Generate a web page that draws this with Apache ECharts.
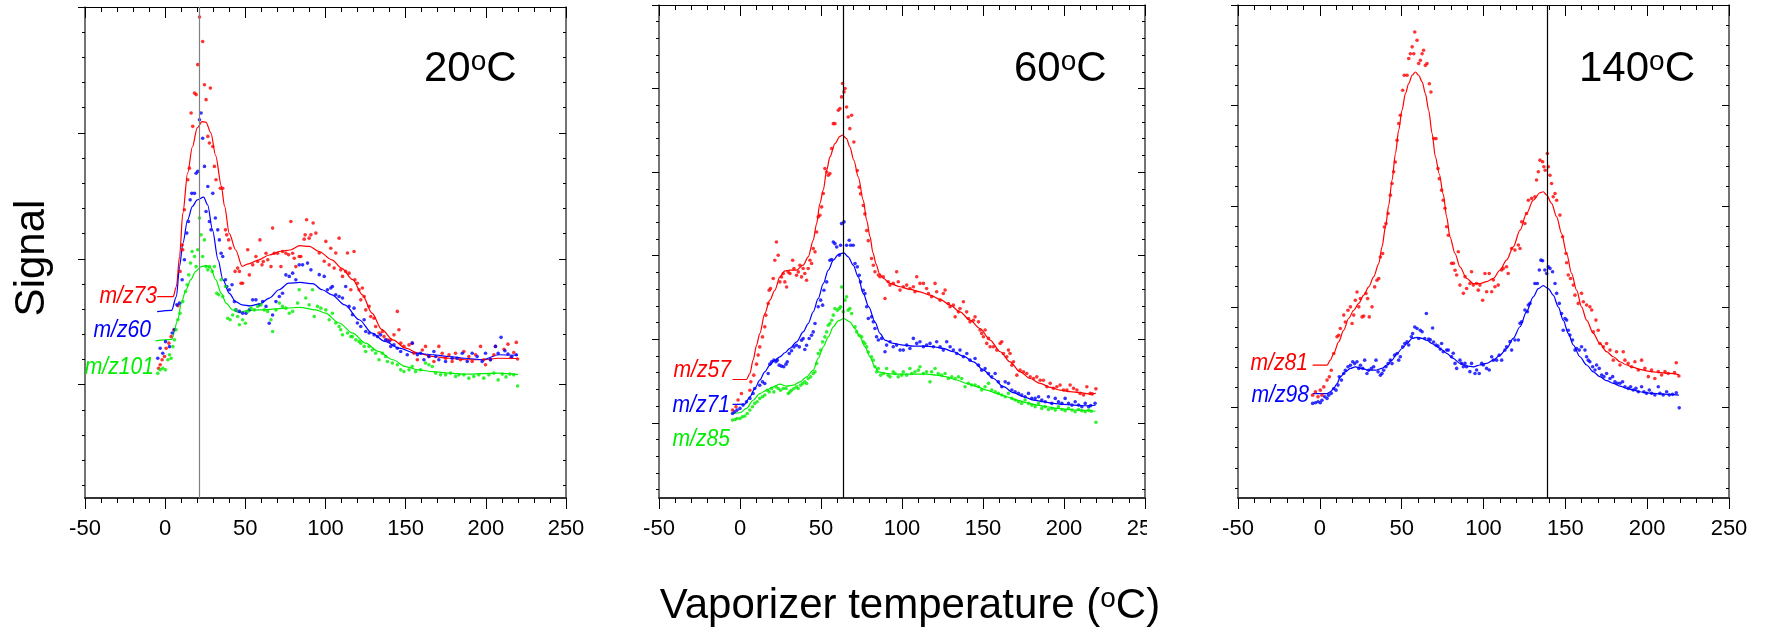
<!DOCTYPE html>
<html>
<head>
<meta charset="utf-8">
<script src="https://cdn.jsdelivr.net/npm/echarts@6.0.0/dist/echarts.min.js"></script>
<style>
html, body { margin: 0; padding: 0; background: #fff; }
#chart { width: 1765px; height: 633px; }
</style>
</head>
<body>
<div id="chart"></div>
<script>
// axis ticks / panel info
var xTicks = [-50, 0, 50, 100, 150, 200, 250];
var panelTemps = ['20', '60', '140'];
var yTops = [20, 30, 25];          // arbitrary signal units, axis bottom = 0.5
var refLines = [21, 64, 139];      // vertical marker (degC)

// ---- 20 C panel ----
var mz73_fit = [[-5,8.5],[5,8.5],[7,8.9],[9,10.1],[11,11.8],[14,13.4],[17,14.45],[20,15.2],[23,15.45],[25.5,15.42],[28.5,15.0],[31.5,14.1],[35,12.9],[37,12.1],[40,11.0],[44,10.35],[48,9.7],[52,9.8],[58,9.95],[65,10.15],[72,10.3],[78,10.35],[84,10.52],[90,10.49],[96,10.29],[104,9.96],[110,9.63],[117,9.17],[123,8.57],[129,7.84],[135,7.2],[142,6.78],[150,6.45],[158,6.25],[167,6.12],[177,6.05],[187,5.99],[198,5.99],[208,6.05],[220,6.04]];
var mz73_pts = [[-4.1,5.65],[-3.1,5.79],[-1.9,5.99],[-0.4,6.12],[0.6,6.45],[2.3,6.65],[3.7,6.91],[5.4,7.18],[8,8.14],[9.3,9.5],[10.6,10.55],[11,10.36],[12,11.95],[14.1,13.14],[15.1,13.6],[16.2,15.79],[17.2,15.26],[18.3,16.58],[19.3,16.52],[20.3,17.71],[21.4,19.6],[23.4,18.63],[24.5,16.91],[25.5,16.32],[26.6,14.86],[28.2,16.78],[27.6,14.6],[29.7,14.46],[30.7,13.67],[31.7,13.14],[34.4,12.8],[35.9,12.8],[37.6,11.15],[38.4,10.95],[39.6,10.75],[40.5,10.42],[43.6,9.5],[45.2,9.63],[46.3,9.5],[47.3,9.03],[48.3,9.03],[51.5,10.36],[52.5,9.36],[54.6,9.76],[56.6,10.09],[57.7,9.89],[59.1,10.75],[60.4,9.76],[61.2,9.89],[62.9,10.22],[64,9.96],[66,9.69],[67,11.22],[68,10.22],[70.1,10.22],[72.2,9.69],[73.2,10.29],[75.3,10.22],[77,10.16],[78.4,11.48],[79.5,10.22],[80.5,10.02],[81.5,9.69],[83.6,10.09],[84.6,10.09],[86.7,10.78],[87.3,10.95],[88.2,11.55],[89.8,10.82],[90.9,10.95],[92.3,11.42],[94,11.02],[96.1,10.23],[99.2,9.9],[100.2,10.69],[102.3,9.76],[103.3,10.42],[105.4,9.63],[106.4,10.23],[108.5,10.82],[109.5,9.56],[110.6,9.3],[112.6,9.5],[113.7,10.23],[114.7,9.43],[115.8,8.77],[117.8,10.29],[118.3,9.17],[119.9,9.03],[120.9,8.77],[122,8.37],[123,8.84],[124.1,8.5],[125.1,7.97],[127.2,8.11],[128.2,7.71],[130.3,7.64],[131.3,7.31],[133.4,7.05],[135.5,7.11],[136.5,6.91],[138.6,6.78],[140.7,6.78],[142.7,6.98],[144.8,7.91],[145.8,7.18],[146.9,6.65],[148.9,6.52],[152.1,6.58],[154.1,6.65],[155.2,6.25],[157.3,5.99],[160.4,6.38],[162.4,6.52],[164.5,6.12],[167.6,5.92],[170.7,6.52],[172.8,6.25],[174.9,6.05],[177,6.19],[179,5.92],[181.1,6.25],[184.2,5.99],[186.3,6.32],[189.4,6.12],[191.5,5.92],[193.6,6.19],[196.7,6.52],[198.7,5.99],[199.8,5.79],[202.9,5.99],[205,6.19],[206,6.52],[211.4,6.41],[213.8,6.61],[215.7,6.08],[217.4,6.28],[219,6.68],[219.8,6.02]];
var mz60_fit = [[-5,7.9],[4,7.95],[7,8.5],[9,9.7],[11,10.6],[14,11.55],[17,12.08],[20,12.34],[24,12.45],[26.5,12.14],[29.5,11.15],[33,9.96],[36,9.17],[40,8.63],[44,8.3],[48,8.17],[53,8.13],[59,8.21],[65,8.44],[71,8.77],[77,9.03],[84,9.06],[92,9.01],[98,8.77],[104,8.57],[112,8.17],[121,7.58],[129,7.05],[137,6.72],[146,6.45],[156,6.25],[167,6.19],[177,6.12],[187,6.05],[198,5.99],[208,6.19],[220,6.17]];
var mz60_pts = [[-4.6,6.05],[-3.1,6.45],[-1.5,6.25],[0.2,6.71],[2.7,6.51],[4.4,7.05],[5.8,7.18],[7.3,8.17],[8.9,8.24],[10.6,9.17],[12,9.96],[13.5,11.02],[14.5,11.48],[15.6,12.34],[16.6,12.6],[18.3,12.6],[19.3,13.4],[20.3,13.47],[21.4,15.52],[22.4,15.79],[23.4,14.79],[24.5,13.67],[25.5,11.88],[26.6,12.87],[27.6,11.48],[28.6,11.15],[29.7,12.6],[31.3,11.62],[32.8,11.15],[33.8,10.75],[34.9,10.22],[35.9,10.09],[37.6,9.17],[38.4,8.9],[40,8.77],[41.7,8.97],[43.2,8.3],[44.2,7.97],[46.3,7.91],[48.3,7.84],[50.4,7.84],[52.5,7.97],[54.6,8.37],[56.6,8.37],[58.7,8.17],[60.8,8.3],[62.9,8.11],[64.9,7.44],[67,7.77],[69.1,8.3],[71.2,8.5],[73.2,8.63],[75.3,9.36],[77.4,9.3],[79.5,9.43],[81.5,9.17],[83.6,9.76],[85.7,9.76],[88.8,9.83],[90.9,9.56],[96.1,9.37],[99.2,9.3],[101.2,8.77],[103.3,8.84],[104.3,8.9],[106.4,8.57],[108.5,8.5],[110.6,8.44],[112.6,8.9],[114.7,8.11],[116.8,7.78],[117.8,8.04],[119.9,7.45],[122,7.31],[124.1,7.58],[125.1,7.11],[127.2,7.05],[130.3,6.98],[132.4,6.91],[134.4,6.98],[137.5,6.78],[139.6,6.72],[140.7,6.52],[142.7,6.58],[144.8,6.45],[146.9,6.32],[151,6.19],[154.1,6.65],[157.3,6.19],[159.3,6.25],[161.4,5.99],[164.5,6.12],[167.6,6.32],[168.7,6.12],[170.7,5.99],[174.9,5.92],[179,6.05],[182.1,6.05],[185.3,6.25],[188.4,5.92],[191.5,6.25],[194.6,6.12],[197.7,5.92],[199.8,6.25],[202.9,5.99],[206,6.52],[207.7,6.25],[209.5,6.88],[211.9,6.35],[213.8,6.22],[216.2,6.11],[219,6.19]];
var mz101_fit = [[-6,6.74],[4,6.8],[8,7.58],[10,8.24],[13,8.77],[16,9.17],[19,9.5],[22.5,9.69],[25.5,9.73],[28.5,9.63],[31.5,9.17],[35,8.63],[38,8.24],[42,7.97],[46,7.87],[52,7.95],[59,7.97],[67,8.0],[75,8.04],[84,8.07],[94,7.97],[100,7.84],[108.5,7.45],[117,7.05],[125,6.65],[133,6.32],[142,5.99],[150,5.72],[158,5.59],[167,5.52],[177,5.46],[187,5.42],[208,5.46],[220,5.4]];
var mz101_pts = [[-4.6,5.45],[-3.1,5.59],[-1.5,5.65],[0.2,5.59],[1.7,5.99],[2.7,6.19],[3.7,6.05],[4.8,6.51],[5.8,6.78],[6.8,7.18],[7.9,7.58],[9.3,7.84],[11,8.3],[12.7,8.7],[13.7,8.97],[14.7,9.36],[15.8,9.83],[16.8,10.29],[18.3,10.09],[19.3,9.69],[20.3,10.36],[21.4,11.62],[22.4,10.95],[23.4,10.09],[24.5,10.75],[25.5,9.69],[26.6,9.56],[27.6,9.69],[29.3,9.5],[30.7,9.69],[32.2,8.63],[33.4,8.57],[34.9,9.17],[35.9,8.5],[37.6,8.9],[39,7.64],[40.5,7.58],[42.1,7.77],[43.8,7.97],[45.2,7.71],[46.3,7.38],[48.3,7.58],[50,7.44],[51.5,7.91],[53.5,8.04],[55.6,7.97],[57.7,8.11],[59.8,8.17],[61.8,7.97],[63.9,7.91],[66,7.58],[67,7.11],[69.1,7.97],[71.2,8.24],[73.2,8.11],[75.3,8.04],[77.4,7.84],[79.5,7.91],[82.6,8.24],[83.6,8.77],[87.7,8.44],[89.8,8.17],[91.9,8.77],[93,7.71],[95,8.11],[97.1,8.04],[100.2,7.97],[102.3,7.58],[104.3,7.84],[106.4,7.45],[108.5,7.31],[109.5,7.18],[110.6,6.98],[113.7,7.05],[115.8,6.91],[116.8,6.91],[118.9,6.78],[120.9,6.72],[122,6.65],[124.1,6.52],[125.1,6.32],[127.2,6.52],[129.2,6.38],[131.3,6.25],[133.4,5.99],[135.5,6.25],[137.5,6.12],[138.6,5.92],[141.7,5.86],[144.8,5.79],[146.9,5.59],[148.9,5.52],[152.1,5.59],[154.1,5.72],[156.2,5.52],[159.3,5.59],[162.4,5.86],[164.5,5.79],[166.6,5.72],[168.7,5.46],[171.8,5.39],[174.9,5.39],[178,5.46],[181.1,5.33],[183.2,5.39],[186.3,5.39],[189.4,5.26],[192.5,5.33],[195.6,5.39],[198.7,5.26],[201.9,5.39],[205,5.46],[207.7,5.19],[210.3,5.42],[212.6,5.31],[215,5.42],[217.4,5.39],[219.8,4.95]];

// ---- 60 C panel ----
var mz57_fit = [[-4.6,7.59],[4,7.59],[6.1,7.95],[8.1,8.75],[10.2,9.64],[12.2,10.34],[15.3,11.54],[18.4,12.34],[21.5,12.93],[24.6,13.73],[27.7,14.09],[30.8,14.13],[34.9,14.13],[39,14.43],[42.1,14.93],[45.2,15.92],[47.3,16.92],[49.3,18.12],[51.4,18.92],[53.5,20.11],[55.5,20.91],[58.6,21.71],[61.7,22.14],[63.3,22.22],[65.8,22.0],[67.8,21.51],[70.3,20.71],[73,19.71],[76.1,18.32],[78.2,17.12],[80.3,16.12],[82,15.2],[84,14.5],[86,13.95],[88.5,13.64],[92.6,13.34],[98.8,13.14],[105,12.98],[111.1,12.84],[117.3,12.64],[123.5,12.38],[129.7,12.04],[135.8,11.64],[142,11.14],[148.2,10.64],[154.4,9.95],[160.6,9.25],[166.7,8.65],[172.9,8.05],[179.1,7.65],[185.3,7.36],[191.5,7.12],[197.6,6.96],[203.8,6.86],[210,6.8],[216.2,6.72],[219.7,6.77]];
var mz57_pts = [[-4.6,5.76],[-2.5,5.96],[-1.2,6.36],[0.9,6.75],[6.1,6.95],[6.7,7.45],[8.5,7.85],[10.2,8.51],[11.2,9.05],[12.2,9.54],[13.9,10.14],[15.3,10.74],[15.9,11.44],[17.4,12.14],[18,12.93],[18.8,13.03],[20.5,13.63],[21.5,14.73],[22.5,15.82],[23.6,15.03],[24.6,13.43],[25.6,13.73],[26.7,13.93],[27.7,13.43],[28.8,13.13],[29.8,14.03],[30.8,13.93],[32.5,14.73],[33.3,14.23],[34.9,13.83],[36,14.03],[37,14.43],[38,13.73],[39,14.23],[40,13.93],[41.1,13.53],[42.1,14.23],[43.2,14.73],[44.2,14.53],[45.2,15.43],[46.3,15.23],[47.3,16.42],[48.3,17.32],[49.3,17.42],[50.4,17.92],[51.4,18.72],[52.4,20.21],[53.5,20.01],[54.5,19.81],[55.5,19.91],[56.6,21.41],[57.6,22.9],[58.6,22.9],[60.7,23.7],[61.7,23.8],[62.7,24.5],[63.3,25.3],[64.2,24.8],[64.8,25.0],[65.8,23.9],[66.8,23.3],[67.8,22.6],[68.9,23.4],[70.3,21.8],[72.4,20.1],[73.6,19.1],[74.4,18.7],[76.1,18.0],[77.1,17.5],[78.2,16.5],[79.2,15.9],[81.2,14.83],[82.3,14.43],[83.3,14.04],[85.4,13.84],[86.4,13.74],[88.5,13.74],[89.5,12.44],[91.5,13.44],[92.6,13.24],[94.6,13.34],[96.7,14.04],[97.7,13.44],[98.8,12.94],[100.8,13.14],[102.9,13.24],[104.9,13.04],[107,13.14],[108,12.84],[109.1,13.74],[111.1,13.34],[113.2,13.34],[115.2,13.04],[116.3,12.74],[118.3,12.54],[120.4,13.34],[121.4,12.84],[123.5,12.34],[125.5,12.74],[126.6,12.94],[128.6,12.14],[129.7,11.94],[131.7,12.04],[132.8,11.34],[134.8,11.64],[135.8,11.84],[137.9,12.24],[139.9,11.64],[141,11.24],[142,11.04],[144.1,11.14],[145.1,11.34],[147.2,11.04],[148.2,10.55],[149.2,10.35],[150.3,10.15],[151.3,10.55],[152.3,9.75],[153.4,10.05],[154.4,9.55],[156.4,9.55],[158.5,9.35],[160.6,9.75],[161.6,9.85],[162.6,9.15],[164.7,8.95],[165.7,9.35],[166.7,9.15],[167.8,8.45],[168.8,8.65],[170.9,7.85],[172.9,8.15],[175,8.05],[177,7.95],[179.1,7.75],[181.2,7.65],[183.2,7.75],[185.3,7.55],[187.3,7.55],[189.4,7.16],[191.5,7.36],[193.5,7.06],[195.6,7.16],[197.6,7.26],[199.7,6.96],[201.8,6.96],[203.8,7.26],[205.9,7.06],[208,6.96],[210,6.76],[212.1,6.66],[214.1,7.16],[216.2,6.76],[217.4,6.73],[219.7,7.03]];
var mz71_fit = [[-4.6,6.1],[3,6.12],[6.1,6.55],[9.1,7.05],[12.2,7.55],[15.3,8.05],[18.4,8.45],[21.5,8.75],[24.6,8.95],[27.7,9.19],[30.8,9.45],[34.9,9.84],[39,10.44],[42.1,10.94],[45.2,11.64],[48.3,12.44],[51.4,13.33],[54.5,14.13],[57.6,14.73],[60.6,15.07],[64.1,15.17],[66.8,14.93],[69.9,14.43],[73,13.73],[76.1,12.73],[79.5,11.94],[83.3,11.04],[86.4,10.35],[89.5,9.95],[94.6,9.75],[100.8,9.65],[107,9.59],[113.2,9.59],[119.4,9.55],[125.5,9.45],[131.7,9.25],[137.9,8.99],[144.1,8.65],[150.3,8.15],[156.4,7.65],[162.6,7.16],[168.8,6.8],[175,6.56],[181.2,6.36],[187.3,6.26],[193.5,6.16],[199.7,6.1],[205.9,6.06],[212.1,6.02],[219.5,6.05]];
var mz71_pts = [[-4.6,5.56],[-3.2,5.66],[-1.8,5.76],[0,5.86],[1.9,6.06],[4,6.26],[6.1,6.46],[8.1,6.75],[9.1,7.05],[12.2,7.25],[13.9,7.45],[15.3,7.35],[17.4,7.95],[18.4,8.51],[19.5,8.65],[20.9,8.75],[22.2,8.65],[23,8.75],[24.2,8.45],[25.6,8.39],[27,8.35],[28.4,8.51],[29.2,8.65],[30.4,9.15],[31.8,9.31],[33.3,9.54],[34.9,9.64],[36.6,9.54],[38,9.94],[39,10.04],[40,9.39],[41.1,9.64],[42.7,10.04],[44.2,10.24],[45.2,10.44],[46.3,10.94],[48.3,11.94],[49.8,12.34],[51,12.04],[51.8,12.93],[53.5,13.43],[55.5,14.73],[56.6,14.77],[57.6,15.82],[58.6,15.72],[59.7,15.52],[61.3,15.03],[62.1,15.62],[62.7,16.92],[64.2,17.02],[65.8,15.62],[67.4,15.92],[68.3,15.62],[69.9,15.62],[71,14.53],[72.4,14.33],[73.6,13.83],[74.4,13.43],[76.1,12.93],[77.1,12.73],[78.2,11.94],[79.2,11.24],[81.2,11.34],[82.3,11.04],[83.3,10.64],[84.3,10.15],[85.4,9.95],[87.4,10.05],[89.5,9.25],[90.5,9.65],[92.6,9.85],[94.6,9.55],[96.7,9.65],[98.8,9.35],[100.8,9.35],[102.9,9.65],[104.9,9.45],[107,10.05],[109.1,9.75],[111.1,9.85],[113.2,9.55],[115.2,9.65],[117.3,9.75],[119.4,9.55],[121.4,9.85],[123.5,9.55],[125.5,9.35],[127.6,9.85],[129.7,9.55],[131.7,9.35],[133.8,9.15],[135.8,9.35],[137.9,8.95],[140,9.15],[142,8.75],[145.1,8.85],[147.2,8.45],[149.2,8.15],[151.3,8.25],[153.4,7.95],[155.4,7.75],[157.5,7.95],[159.5,7.45],[161.6,7.16],[163.7,7.45],[165.7,7.36],[167.8,6.96],[169.8,6.86],[171.9,6.76],[173.9,6.66],[176,6.56],[178.1,6.76],[180.1,6.46],[182.2,6.46],[184.3,6.56],[186.3,6.36],[188.4,6.26],[190.4,6.56],[192.5,6.16],[194.6,6.46],[196.6,6.26],[198.7,6.16],[200.7,6.46],[202.8,6.16],[204.9,6.06],[206.9,6.26],[209,6.06],[211,5.96],[213.1,6.16],[215.2,5.96],[216.5,6.03],[219.2,6.17]];
var mz85_fit = [[-4.6,5.56],[0,5.6],[4,5.86],[8.1,6.35],[12.2,6.75],[16.4,6.95],[20.5,7.15],[24.6,7.31],[28.8,7.19],[32.9,7.25],[37,7.45],[41.1,7.75],[45.2,8.15],[48.3,8.85],[51.4,9.54],[54.5,10.14],[57.6,10.74],[60.6,11.1],[64.1,11.24],[67.8,11.04],[71,10.64],[74.1,10.14],[77.1,9.55],[80.2,8.95],[83.3,8.35],[85.4,8.05],[90.5,7.95],[96.7,7.91],[102.9,7.91],[109.1,7.91],[115.2,7.91],[121.4,7.85],[127.6,7.75],[133.8,7.56],[140,7.36],[146.2,7.16],[152.3,6.96],[158.5,6.76],[164.7,6.56],[170.9,6.36],[177,6.2],[183.2,6.06],[189.4,5.96],[195.6,5.86],[201.8,5.8],[208,5.76],[216.2,5.72],[219.5,5.69]];
var mz85_pts = [[-4.6,5.16],[-3,5.2],[-1.8,5.26],[0,5.26],[1.5,5.36],[3,5.4],[4.5,5.56],[6.1,5.76],[7.7,5.96],[9.1,6.16],[10.6,6.26],[12.2,6.46],[13.9,6.56],[15.3,6.66],[16.8,6.95],[18,6.85],[19.5,7.05],[20.9,6.85],[22.2,7.15],[23.6,7.05],[25,6.95],[26.7,7.05],[28.4,7.05],[29.8,6.75],[30.8,6.85],[31.8,6.95],[33.3,7.05],[34.9,7.15],[35.9,7.05],[37.4,7.25],[38.6,7.35],[40,7.45],[41.1,7.35],[42.1,7.65],[43.6,7.75],[45.2,7.95],[46.3,8.05],[47.3,8.55],[48.3,9.15],[49.8,9.35],[51,9.84],[52.4,10.14],[53.5,10.44],[54.5,10.84],[55.5,10.94],[56.6,11.14],[57.6,11.44],[58.6,11.84],[60.1,11.74],[61.3,11.84],[62.1,11.94],[62.7,13.13],[63.7,11.64],[64.8,12.34],[65.8,12.54],[66.8,11.74],[67.8,11.84],[68.9,11.54],[71,10.74],[72,10.44],[73.6,10.24],[75.1,10.14],[76.1,9.84],[77.1,9.74],[78.2,9.54],[79.2,9.24],[81.2,8.95],[82.3,8.75],[83.3,8.35],[84.3,8.05],[85.4,8.25],[86.8,7.85],[88.5,7.95],[90.5,8.25],[91.5,7.85],[92.6,7.75],[94.6,8.05],[95.7,7.95],[97.7,7.75],[99.8,7.85],[100.8,8.05],[102.9,7.85],[104.9,8.25],[106,7.95],[108,8.05],[110.1,8.15],[111.1,8.35],[113.2,7.95],[115.2,8.05],[117.3,7.45],[118.3,8.05],[120.4,8.25],[122.4,7.95],[124.5,7.85],[126.6,7.95],[128.6,7.65],[130.7,7.75],[132.8,7.65],[134.8,7.75],[136.9,7.65],[138.9,7.16],[141,7.36],[143,7.26],[145.1,7.26],[147.2,7.16],[149.2,6.96],[151.3,7.16],[153.4,7.36],[155.4,6.96],[157.5,6.86],[159.5,6.76],[161.6,6.66],[163.7,6.56],[165.7,6.76],[167.8,6.46],[169.8,6.36],[171.9,6.26],[173.9,6.16],[176,6.36],[178.1,6.16],[180.1,6.06],[182.2,5.96],[184.3,6.16],[186.3,5.86],[188.4,5.96],[190.4,5.8],[192.5,5.86],[194.6,5.76],[196.6,5.96],[198.7,5.8],[200.7,5.72],[202.8,5.86],[204.9,5.76],[206.9,5.66],[209,5.8],[211,5.72],[213.1,5.66],[215.2,5.76],[216.8,5.69],[219.7,5.03]];

// ---- 140 C panel ----
var mz81_fit = [[-4.4,7.1],[4.4,7.1],[6.4,7.35],[8.5,7.68],[11.5,8.26],[14.6,8.84],[17.6,9.42],[20.7,9.83],[23.8,10.17],[26.8,10.58],[29.9,10.99],[32.9,11.49],[36,12.15],[38,12.98],[40.1,13.97],[42.1,15.05],[44.1,16.29],[46.2,17.62],[48.2,18.78],[50.2,19.77],[52.3,20.6],[54.3,21.09],[56.4,21.51],[58.4,21.67],[60.4,21.51],[62.5,21.18],[64.5,20.6],[66.5,19.77],[68.6,18.61],[70.6,17.45],[73,16.6],[75.4,15.6],[77.5,14.47],[79.5,13.48],[82.6,12.65],[85.6,11.99],[89.7,11.41],[93.8,11.16],[97.8,11.16],[101.9,11.25],[106,11.41],[110.1,11.83],[114.1,12.32],[118.2,12.98],[122.3,13.81],[126.3,14.64],[130.4,15.3],[134.5,15.67],[136.5,15.72],[138.6,15.55],[141.6,15.14],[144.7,14.47],[147.7,13.65],[150.8,12.65],[153.8,11.66],[156.9,10.83],[159.9,10.0],[163,9.34],[167.1,8.68],[171.1,8.18],[175.2,7.77],[179.3,7.52],[183.4,7.27],[187.4,7.11],[191.5,6.99],[195.6,6.89],[199.6,6.82],[203.7,6.77],[207.8,6.73],[213.9,6.69],[219.4,6.63]];
var mz81_pts = [[-4.4,5.61],[-2.7,5.78],[-1.1,5.53],[0.3,5.86],[1.3,5.61],[2.4,6.02],[4.4,6.36],[5.8,6.52],[7,6.85],[8.5,7.68],[10.5,8.51],[11.5,8.59],[12.5,8.92],[14.6,9.59],[15.6,9.25],[17.2,9.83],[18.7,10.0],[19.7,9.17],[20.7,9.59],[21.7,10.33],[22.7,10.74],[23.8,10.0],[24.8,10.41],[25.8,9.5],[26.8,9.54],[28.2,10.66],[29.2,10.41],[30.2,9.5],[31.9,10.0],[33.5,10.99],[34.9,11.32],[36,11.41],[37,12.48],[38.4,12.65],[39.4,13.97],[40.4,14.14],[41.7,14.64],[43.1,15.55],[44.1,16.13],[45.1,16.71],[46.1,17.2],[47.2,18.28],[48.2,19.11],[49.2,19.52],[50.6,20.76],[51.6,21.51],[53.3,21.51],[54.3,22.34],[55.3,22.58],[56.4,22.92],[57.4,22.58],[58,23.66],[59.4,23.25],[60.4,22.09],[61.4,22.25],[62.5,22.58],[63.4,22.75],[64.5,22.0],[65.5,22.09],[66.9,21.09],[67.9,20.68],[69.6,18.36],[71,18.36],[72.2,16.87],[73,16.37],[74.4,15.8],[75.4,15.3],[76.5,14.9],[77.5,13.98],[78.5,13.56],[80.5,12.16],[81.6,12.16],[82.6,11.82],[83.6,11.58],[84.6,12.74],[85.6,11.08],[87.7,10.67],[88.7,11.5],[89.7,10.91],[91.7,11.16],[92.7,11.74],[93.8,11.08],[95.8,11.16],[96.8,10.83],[97.8,11.08],[99.5,10.33],[100.9,11.66],[101.9,10.75],[103.5,11.66],[105,10.75],[106,11.33],[107,11.0],[109,11.08],[111.1,11.83],[112.1,11.91],[114.1,11.99],[115.1,11.66],[117.2,12.9],[119.2,12.82],[121.3,13.07],[122.3,12.9],[123.3,14.23],[125.3,14.14],[126.3,14.64],[127.4,15.3],[129.4,15.39],[131.4,15.47],[132.4,16.3],[133.5,16.71],[134.5,17.29],[136.1,17.21],[136.9,16.96],[137.7,16.79],[139,17.62],[139.6,16.96],[140.6,16.54],[141.6,16.13],[142.6,15.47],[143.7,15.63],[144.7,15.3],[146.7,14.56],[148.3,13.48],[150.4,12.65],[150.8,12.19],[151.8,11.58],[153.2,11.41],[154.9,11.08],[155.9,10.58],[157.9,10.17],[159.9,10.67],[161,10.25],[163,10.09],[165,10.0],[166.1,9.84],[167.1,8.76],[168.7,9.34],[170.1,8.84],[171.1,8.18],[173.2,8.02],[175.2,8.18],[177.3,7.85],[179.3,7.35],[181.3,7.77],[183.4,7.11],[185.4,7.77],[186.4,7.35],[188.4,7.19],[190.5,7.02],[192.5,7.27],[194.6,6.86],[196.6,7.35],[198.6,6.94],[200.7,6.53],[202.7,6.86],[204.7,6.44],[206.8,6.78],[208.8,6.61],[210.9,6.78],[212.9,6.69],[216.7,6.73],[217.8,7.22],[219.4,6.56]];
var mz98_fit = [[-4.4,5.69],[4.4,5.69],[6.4,5.78],[8.5,5.94],[10.5,6.19],[12.5,6.52],[15.6,6.77],[18.7,6.94],[21.7,7.02],[25.8,6.94],[29.9,6.85],[34,6.85],[38,6.94],[41.1,7.1],[44.1,7.35],[47.2,7.68],[50.2,7.93],[53.3,8.18],[56.4,8.43],[59.4,8.48],[62.5,8.43],[65.5,8.33],[68.6,8.17],[71.6,8.02],[74.4,7.88],[77.5,7.69],[81.5,7.44],[85.6,7.19],[89.7,7.06],[93.8,7.02],[97.8,7.11],[101.9,7.19],[106,7.35],[110.1,7.6],[114.1,7.93],[118.2,8.43],[122.3,9.01],[126.3,9.76],[130.4,10.5],[133.5,10.91],[136.5,11.05],[139.6,10.91],[142.6,10.58],[145.7,10.0],[148.7,9.34],[151.8,8.68],[154.9,8.1],[158.9,7.52],[163,7.11],[167.1,6.77],[171.1,6.53],[175.2,6.33],[179.3,6.2],[183.4,6.06],[187.4,5.95],[191.5,5.87],[195.6,5.78],[199.6,5.73],[203.7,5.7],[207.8,5.67],[213.9,5.65],[219.4,5.61]];
var mz98_pts = [[-4.4,5.2],[-2.7,5.23],[-1.1,5.28],[0.3,5.23],[1.3,5.36],[3,5.53],[4.4,5.45],[5.4,5.61],[7,5.7],[8.5,5.94],[9.9,5.86],[11.1,6.11],[11.9,6.52],[13.2,6.36],[14.6,6.69],[15.6,6.85],[17.2,7.02],[18.7,7.1],[20.1,7.27],[21.3,7.18],[22.7,7.27],[23.8,6.94],[24.8,7.1],[26.2,6.94],[27.4,7.35],[28.8,6.69],[29.8,6.85],[31.5,6.94],[32.9,7.02],[34.3,7.35],[35.6,6.77],[37,6.6],[38,6.69],[39,6.85],[40.4,7.02],[41.7,7.18],[43.1,7.35],[44.1,7.18],[45.7,7.6],[47.2,7.68],[48.2,7.35],[49.2,7.52],[50.6,8.01],[51.9,8.18],[53.3,8.26],[54.3,8.1],[55.9,8.51],[56.7,8.67],[58,9.0],[59.4,8.92],[60.4,8.43],[61.4,8.84],[62.5,8.76],[64.1,8.43],[65.1,9.67],[66.5,8.4],[67.5,8.36],[68.9,8.95],[69.5,8.25],[71,8.1],[72.2,8.05],[73.6,7.9],[74.4,8.18],[75.4,7.77],[77.5,7.85],[78.5,7.85],[80.5,7.52],[81.5,7.69],[82.6,7.19],[83.6,6.94],[85.6,7.35],[86.6,7.19],[87.7,7.02],[88.7,7.19],[89.7,7.02],[91.7,6.78],[92.7,7.19],[94.8,6.69],[95.8,6.86],[97.4,6.69],[98.9,7.19],[99.9,7.11],[101.9,6.94],[103.5,6.86],[105,7.52],[106,7.35],[108,7.35],[109.6,7.6],[111.1,7.35],[113.1,7.85],[114.1,8.02],[116.2,8.27],[117.2,7.85],[119.2,8.35],[121.3,8.35],[122.3,9.18],[123.3,9.26],[125.3,9.84],[126.8,9.76],[127.4,10.09],[128.4,10.17],[131.4,11.16],[132.9,11.16],[134.1,11.83],[135.1,12.32],[136.1,12.29],[137.5,11.83],[138.6,11.66],[139.6,11.99],[140.6,11.91],[142.2,11.74],[143.7,11.16],[144.7,10.67],[146.3,10.17],[147.7,9.67],[148.7,8.84],[149.8,9.42],[150.8,9.34],[151.8,8.84],[152.8,8.6],[154.4,8.35],[155.9,7.85],[156.9,7.93],[158.5,7.85],[159.9,8.02],[162,7.85],[163,7.52],[164,7.35],[165,7.27],[166.7,7.02],[168.1,6.86],[169.1,7.11],[170.7,6.94],[172.2,6.61],[173.6,6.53],[175.2,6.69],[177.3,6.44],[178.9,6.53],[180.3,6.28],[181.7,6.2],[183.4,6.2],[185,6.28],[186.4,6.03],[188.4,5.95],[189.9,6.03],[191.5,5.87],[193.1,5.95],[194.6,5.78],[196.6,6.03],[198,5.78],[199.6,5.7],[201.3,5.87],[202.7,5.7],[204.7,5.62],[206.8,6.03],[207.8,5.7],[209.8,5.62],[211.9,5.78],[213.5,5.62],[215.5,5.65],[217.8,5.73],[219.6,4.98]];

var RED = '#ff0000', BLUE = '#0000ff', GREEN = '#00ee00';
var FONT = "'Liberation Sans', Arial, Helvetica, sans-serif";

var panels = [
  [{name: '73', c: RED, fit: mz73_fit, pts: mz73_pts},
   {name: '60', c: BLUE, fit: mz60_fit, pts: mz60_pts},
   {name: '101', c: GREEN, fit: mz101_fit, pts: mz101_pts}],
  [{name: '57', c: RED, fit: mz57_fit, pts: mz57_pts},
   {name: '71', c: BLUE, fit: mz71_fit, pts: mz71_pts},
   {name: '85', c: GREEN, fit: mz85_fit, pts: mz85_pts}],
  [{name: '81', c: RED, fit: mz81_fit, pts: mz81_pts},
   {name: '98', c: BLUE, fit: mz98_fit, pts: mz98_pts}]
];

var grids = [
  {left: 85, top: 7, width: 481, height: 491},
  {left: 659, top: 5, width: 486, height: 493},
  {left: 1238, top: 5, width: 491, height: 493}
];
var refColors = ['#808080', '#000', '#000'];

var xAxes = [], yAxes = [], series = [];

function yAx(i, pos, vals, len, showLine) {
  return {
    gridIndex: i, type: 'value', min: 0.5, max: yTops[i], position: pos,
    axisLine: {show: showLine, onZero: false, lineStyle: {color: '#444', width: 1.5}},
    axisTick: {show: true, inside: pos === 'right', length: len, customValues: vals,
               lineStyle: {color: '#000', width: 1}},
    axisLabel: {show: false},
    splitLine: {show: false}
  };
}

grids.forEach(function (g, i) {
  var base = {
    gridIndex: i, type: 'value',
    min: xTicks[0], max: xTicks[xTicks.length - 1], interval: xTicks[1] - xTicks[0],
    splitLine: {show: false}
  };
  xAxes.push(Object.assign({}, base, {
    position: 'bottom',
    axisLine: {onZero: false, lineStyle: {color: '#333', width: 2}},
    axisTick: {length: 11, lineStyle: {color: '#000', width: 1}},
    minorTick: {show: true, splitNumber: 5, length: 5, lineStyle: {color: '#000', width: 1}},
    axisLabel: {margin: 20, fontSize: 22, color: '#000', fontFamily: FONT}
  }));
  xAxes.push(Object.assign({}, base, {
    position: 'top',
    axisLine: {onZero: false, lineStyle: {color: '#000', width: 1}},
    axisTick: {inside: true, length: 11, lineStyle: {color: '#000', width: 1}},
    minorTick: {show: true, splitNumber: 5, length: 5, lineStyle: {color: '#000', width: 1}},
    axisLabel: {show: false}
  }));
  var majors = [], minors = [];
  for (var v = 1; v <= yTops[i]; v++) { (v % 5 === 0 ? majors : minors).push(v); }
  yAxes.push(yAx(i, 'left', majors, 7, true));
  yAxes.push(yAx(i, 'left', minors, 3, false));
  yAxes.push(yAx(i, 'right', majors, 7, true));
  yAxes.push(yAx(i, 'right', minors, 3, false));

  panels[i].forEach(function (s, k) {
    series.push({
      type: 'scatter', xAxisIndex: 2 * i, yAxisIndex: 4 * i,
      data: s.pts, symbol: 'circle', symbolSize: 3.6,
      itemStyle: {color: s.c}, silent: true, z: 3
    });
    var line = {
      type: 'line', xAxisIndex: 2 * i, yAxisIndex: 4 * i,
      data: s.fit, showSymbol: false, smooth: 0.3, smoothMonotone: 'x',
      lineStyle: {color: s.c, width: 1.2}, silent: true, z: 2
    };
    if (k === 0) {
      line.markLine = {
        silent: true, symbol: ['none', 'none'], label: {show: false},
        lineStyle: {color: refColors[i], width: 1.2, type: 'solid'},
        data: [{xAxis: refLines[i]}]
      };
    }
    series.push(line);
  });
});

// text overlays
var graphics = [];
var titleX = [424, 1014, 1579];
panelTemps.forEach(function (t, i) {
  graphics.push({
    type: 'text', x: titleX[i], y: 69, z: 50,
    style: {
      text: '{a|' + t + '}{b|o}{a|C}',
      align: 'left', verticalAlign: 'middle', textAlign: 'left', textVerticalAlign: 'middle',
      rich: {
        a: {fontSize: 42, fontFamily: FONT, fill: '#000', color: '#000'},
        b: {fontSize: 28, fontFamily: FONT, fill: '#000', color: '#000', verticalAlign: 'top', lineHeight: 24}
      }
    }
  });
});

// m/z labels: slightly condensed to mimic the original narrow lettering
var labelPos = [
  [[157, 296], [151, 330], [154, 367]],
  [[731, 370], [730, 405], [730, 439]],
  [[1308, 363], [1309, 395]]
];
panels.forEach(function (p, i) {
  p.forEach(function (s, k) {
    graphics.push({
      type: 'text', x: labelPos[i][k][0], y: labelPos[i][k][1], z: 50, scaleX: 0.88,
      style: {
        text: 'm/z' + s.name, fill: s.c,
        font: 'italic 24px ' + FONT,
        align: 'right', verticalAlign: 'middle', textAlign: 'right', textVerticalAlign: 'middle'
      }
    });
  });
});

graphics.push({
  type: 'text', x: 32, y: 258, rotation: Math.PI / 2, z: 50,
  style: {
    text: 'Signal', fill: '#000', font: '42px ' + FONT,
    align: 'center', verticalAlign: 'middle', textAlign: 'center', textVerticalAlign: 'middle'
  }
});
graphics.push({
  type: 'text', x: 910, y: 606, z: 50,
  style: {
    text: '{a|Vaporizer temperature (}{b|o}{a|C)}',
    align: 'center', verticalAlign: 'middle', textAlign: 'center', textVerticalAlign: 'middle',
    rich: {
      a: {fontSize: 42, fontFamily: FONT, fill: '#000', color: '#000'},
      b: {fontSize: 28, fontFamily: FONT, fill: '#000', color: '#000', verticalAlign: 'top', lineHeight: 24}
    }
  }
});
// the middle panel's last tick label is cut off in the original figure
graphics.push({
  type: 'rect', z: 60,
  shape: {x: 1147, y: 508, width: 55, height: 44},
  style: {fill: '#fff'}
});

var chart = echarts.init(document.getElementById('chart'), null, {renderer: 'canvas'});
chart.setOption({
  animation: false,
  backgroundColor: '#fff',
  grid: grids,
  xAxis: xAxes,
  yAxis: yAxes,
  series: series,
  graphic: graphics
});
</script>
</body>
</html>
